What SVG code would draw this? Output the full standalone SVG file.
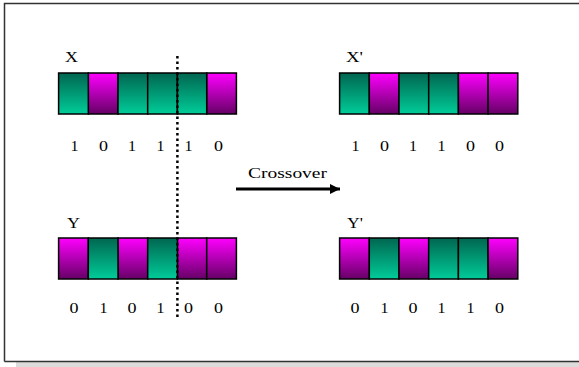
<svg xmlns="http://www.w3.org/2000/svg" width="579" height="367" viewBox="0 0 579 367">
<defs>
<linearGradient id="g" x1="0" y1="0" x2="0" y2="1"><stop offset="0" stop-color="#006650"/><stop offset="1" stop-color="#00CC99"/></linearGradient>
<linearGradient id="m" x1="0" y1="0" x2="0" y2="1"><stop offset="0" stop-color="#FF00FF"/><stop offset="1" stop-color="#660066"/></linearGradient>
<marker id="ah" markerWidth="10" markerHeight="10" refX="10" refY="5" orient="auto" markerUnits="userSpaceOnUse"><path d="M0,0 L10,5 L0,10 Z" fill="#000"/></marker>
</defs>
<style>
.G{fill:url(#g);stroke:#000;stroke-width:1.5}
.M{fill:url(#m);stroke:#000;stroke-width:1.5}
.t{font-family:"Liberation Serif",serif;font-size:14.5px;fill:#000}
.d{font-family:"Liberation Serif",serif;font-size:14.5px;fill:#000}
</style>
<rect x="0" y="0" width="579" height="367" fill="#fff"/>
<rect x="16" y="362" width="563" height="5" fill="#dcdcdc"/>
<path d="M4.5,361.5 V3.5 H579" fill="none" stroke="#333" stroke-width="1.5"/>
<path d="M4.5,361.5 H579" fill="none" stroke="#333" stroke-width="1.5"/>
<g id="X">
<text class="t" x="65" y="62" textLength="13" lengthAdjust="spacingAndGlyphs">X</text>
<rect class="M" x="88.3" y="73" width="29.7" height="41"/>
<rect class="M" x="206.7" y="73" width="29.7" height="41"/>
<rect class="G" x="58.6" y="73" width="29.7" height="41"/>
<rect class="G" x="118" y="73" width="29.7" height="41"/>
<rect class="G" x="147.7" y="73" width="29.7" height="41"/>
<rect class="G" x="177.4" y="73" width="29.3" height="41"/>
<g class="d">
<text x="70.5" y="151" textLength="8" lengthAdjust="spacingAndGlyphs">1</text><text x="99" y="151" textLength="9" lengthAdjust="spacingAndGlyphs">0</text><text x="128" y="151" textLength="8" lengthAdjust="spacingAndGlyphs">1</text><text x="156.5" y="151" textLength="8" lengthAdjust="spacingAndGlyphs">1</text><text x="184.5" y="151" textLength="8" lengthAdjust="spacingAndGlyphs">1</text><text x="214" y="151" textLength="9" lengthAdjust="spacingAndGlyphs">0</text>
</g>
</g>
<g id="Xp">
<text class="t" x="346" y="62" textLength="17" lengthAdjust="spacingAndGlyphs">X'</text>
<rect class="G" x="339.6" y="73" width="29.7" height="41"/>
<rect class="M" x="369.3" y="73" width="29.7" height="41"/>
<rect class="G" x="399" y="73" width="29.7" height="41"/>
<rect class="G" x="428.7" y="73" width="29.7" height="41"/>
<rect class="M" x="458.4" y="73" width="29.7" height="41"/>
<rect class="M" x="488.1" y="73" width="29.7" height="41"/>
<g class="d">
<text x="351.5" y="151" textLength="8" lengthAdjust="spacingAndGlyphs">1</text><text x="380" y="151" textLength="9" lengthAdjust="spacingAndGlyphs">0</text><text x="409" y="151" textLength="8" lengthAdjust="spacingAndGlyphs">1</text><text x="437.5" y="151" textLength="8" lengthAdjust="spacingAndGlyphs">1</text><text x="466" y="151" textLength="9" lengthAdjust="spacingAndGlyphs">0</text><text x="495" y="151" textLength="9" lengthAdjust="spacingAndGlyphs">0</text>
</g>
</g>
<g id="Y">
<text class="t" x="67" y="228" textLength="13" lengthAdjust="spacingAndGlyphs">Y</text>
<rect class="M" x="58.6" y="238" width="29.7" height="41"/>
<rect class="M" x="118" y="238" width="29.7" height="41"/>
<rect class="M" x="177.4" y="238" width="29.3" height="41"/>
<rect class="M" x="206.7" y="238" width="29.7" height="41"/>
<rect class="G" x="88.3" y="238" width="29.7" height="41"/>
<rect class="G" x="147.7" y="238" width="29.7" height="41"/>
<g class="d">
<text x="69.5" y="313" textLength="9" lengthAdjust="spacingAndGlyphs">0</text><text x="99.5" y="313" textLength="8" lengthAdjust="spacingAndGlyphs">1</text><text x="127.5" y="313" textLength="9" lengthAdjust="spacingAndGlyphs">0</text><text x="156.5" y="313" textLength="8" lengthAdjust="spacingAndGlyphs">1</text><text x="184" y="313" textLength="9" lengthAdjust="spacingAndGlyphs">0</text><text x="214" y="313" textLength="9" lengthAdjust="spacingAndGlyphs">0</text>
</g>
</g>
<g id="Yp">
<text class="t" x="347" y="228" textLength="16" lengthAdjust="spacingAndGlyphs">Y'</text>
<rect class="M" x="339.6" y="238" width="29.7" height="41"/>
<rect class="G" x="369.3" y="238" width="29.7" height="41"/>
<rect class="M" x="399" y="238" width="29.7" height="41"/>
<rect class="G" x="428.7" y="238" width="29.7" height="41"/>
<rect class="G" x="458.4" y="238" width="29.7" height="41"/>
<rect class="M" x="488.1" y="238" width="29.7" height="41"/>
<g class="d">
<text x="350.5" y="313" textLength="9" lengthAdjust="spacingAndGlyphs">0</text><text x="380.5" y="313" textLength="8" lengthAdjust="spacingAndGlyphs">1</text><text x="408.5" y="313" textLength="9" lengthAdjust="spacingAndGlyphs">0</text><text x="437.5" y="313" textLength="8" lengthAdjust="spacingAndGlyphs">1</text><text x="466.5" y="313" textLength="8" lengthAdjust="spacingAndGlyphs">1</text><text x="495" y="313" textLength="9" lengthAdjust="spacingAndGlyphs">0</text>
</g>
</g>
<g id="cut">
<line x1="177.4" y1="56" x2="177.4" y2="318" stroke="#000" stroke-width="2.5" stroke-dasharray="2.5 3"/>
</g>
<g id="connectors">
<line x1="236" y1="189" x2="340" y2="189" stroke="#000" stroke-width="3" marker-end="url(#ah)"/>
<text class="t" x="248" y="178" textLength="79" lengthAdjust="spacingAndGlyphs">Crossover</text>
</g>
</svg>
